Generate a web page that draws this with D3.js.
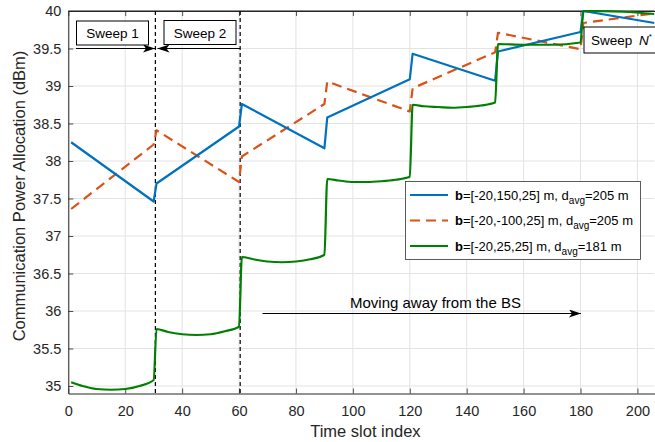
<!DOCTYPE html>
<html>
<head>
<meta charset="utf-8">
<script src="https://cdn.jsdelivr.net/npm/d3@7"></script>
<style>
  body { margin: 0; background: #fff; }
  text { font-family: "Liberation Sans", Arial, Helvetica, sans-serif; }
</style>
</head>
<body>
<div id="chart"></div>
<script>
// ── Data
const xTicks = [0, 20, 40, 60, 80, 100, 120, 140, 160, 180, 200];
const yTicks = [35, 35.5, 36, 36.5, 37, 37.5, 38, 38.5, 39, 39.5, 40];

// b=[-20,150,25]
const blueT = [1, 30, 31, 60, 61, 90, 91, 120, 121, 150, 151, 180, 181, 206];
const blueV = [38.25, 37.46, 37.70, 38.46, 38.76, 38.17, 38.58, 39.09, 39.43, 39.07, 39.46, 39.72, 40.0, 39.84];

// b=[-20,-100,25]
const orangeT = [1, 30, 31, 60, 61, 90, 91, 120, 121, 150, 151, 180, 181, 206];
const orangeV = [37.36, 38.22, 38.41, 37.72, 38.06, 38.76, 39.06, 38.66, 38.97, 39.45, 39.71, 39.49, 39.84, 39.97];

// b=[-20,25,25]
const greenT = [1, 5, 10, 15, 20, 25, 30,
                31, 35, 40, 45, 50, 55, 60,
                61, 65, 70, 75, 80, 85, 90,
                91, 95, 100, 105, 110, 115, 120,
                121, 125, 130, 135, 140, 145, 150,
                151, 160, 170, 180,
                181, 195, 206];
const greenV = [35.05, 35.00, 34.96, 34.95, 34.96, 35.00, 35.08,
                35.76, 35.72, 35.69, 35.68, 35.69, 35.73, 35.79,
                36.72, 36.69, 36.66, 36.65, 36.66, 36.69, 36.75,
                37.76, 37.74, 37.72, 37.72, 37.73, 37.75, 37.79,
                38.75, 38.73, 38.72, 38.71, 38.72, 38.74, 38.78,
                39.56, 39.55, 39.55, 39.58,
                40.0, 39.99, 39.96];

const sweepBounds = [30.6, 60.4];

// ── Layout
const W = 655, H = 442;
const M = { left: 68.3, top: 11, right: 654.5, bottom: 393.5 };
const FONT = '"Liberation Sans", Arial, Helvetica, sans-serif';
const AXIS_COL = '#262626';

const svg = d3.select('#chart').append('svg')
  .attr('width', W).attr('height', H)
  .style('display', 'block');

const x = d3.scaleLinear().domain([0, 206]).range([M.left, M.right]);
const y = d3.scaleLinear().domain([34.9, 40]).range([M.bottom, M.top]);

const defs = svg.append('defs');
defs.append('clipPath').attr('id', 'plot-clip')
  .append('rect')
  .attr('x', M.left).attr('y', M.top - 1)
  .attr('width', M.right - M.left).attr('height', M.bottom - M.top + 1);

// MATLAB-ish notched arrowhead
defs.append('marker')
  .attr('id', 'arrow')
  .attr('viewBox', '0 0 12 8')
  .attr('refX', 12).attr('refY', 4)
  .attr('markerWidth', 12).attr('markerHeight', 8)
  .attr('markerUnits', 'userSpaceOnUse')
  .attr('orient', 'auto-start-reverse')
  .append('path')
  .attr('d', 'M0,0 L12,4 L0,8 L3,4 Z')
  .attr('fill', '#000');

// ── Grid
const grid = svg.append('g');
grid.selectAll('.gx').data(xTicks).enter().append('line')
  .attr('x1', d => x(d)).attr('x2', d => x(d))
  .attr('y1', M.top).attr('y2', M.bottom)
  .attr('stroke', '#e3e3e3').attr('stroke-width', 1);
grid.selectAll('.gy').data(yTicks).enter().append('line')
  .attr('x1', M.left).attr('x2', M.right)
  .attr('y1', d => y(d)).attr('y2', d => y(d))
  .attr('stroke', '#e3e3e3').attr('stroke-width', 1);

// ── Axes
const xAxis = svg.append('g')
  .attr('transform', `translate(0,${M.bottom})`)
  .call(d3.axisBottom(x).tickValues(xTicks).tickSizeInner(-5).tickSizeOuter(0).tickPadding(12));
const xAxisTop = svg.append('g')
  .attr('transform', `translate(0,${M.top})`)
  .call(d3.axisTop(x).tickValues(xTicks).tickSizeInner(-5).tickSizeOuter(0).tickFormat(''));
const yAxis = svg.append('g')
  .attr('transform', `translate(${M.left},0)`)
  .call(d3.axisLeft(y).tickValues(yTicks).tickSizeInner(-5).tickSizeOuter(0).tickPadding(7)
    .tickFormat(d3.format('~g')));

[xAxis, xAxisTop, yAxis].forEach(g => {
  g.select('.domain').attr('stroke', AXIS_COL).attr('stroke-width', 1);
  g.selectAll('.tick line').attr('stroke', AXIS_COL).attr('stroke-width', 0.8);
  g.selectAll('.tick text')
    .attr('fill', AXIS_COL)
    .style('font-family', FONT)
    .style('font-size', '14.5px');
});
svg.append('line')
  .attr('x1', M.left).attr('x2', M.right)
  .attr('y1', M.top).attr('y2', M.top)
  .attr('stroke', AXIS_COL).attr('stroke-width', 1);

// axis titles
svg.append('text')
  .attr('x', (M.left + M.right) / 2 + 4).attr('y', 437)
  .attr('text-anchor', 'middle')
  .attr('fill', AXIS_COL)
  .style('font-size', '16.5px')
  .text('Time slot index');

svg.append('text')
  .attr('transform', `translate(25,196) rotate(-90)`)
  .attr('text-anchor', 'middle')
  .attr('fill', AXIS_COL)
  .style('font-size', '16.5px')
  .text('Communication Power Allocation (dBm)');

// ── Sweep boundaries
svg.append('g').selectAll('line').data(sweepBounds).enter().append('line')
  .attr('x1', d => x(d)).attr('x2', d => x(d))
  .attr('y1', M.top).attr('y2', M.bottom)
  .attr('stroke', '#000').attr('stroke-width', 1.2)
  .attr('stroke-dasharray', '4,3');

// ── Data lines
const plot = svg.append('g').attr('clip-path', 'url(#plot-clip)');
const zipT = (ts, vs) => ts.map((t, i) => [t, vs[i]]);

const series = [
  { key: 'orange', data: zipT(orangeT, orangeV), color: '#D95319', dash: '10,6', curve: d3.curveLinear },
  { key: 'blue', data: zipT(blueT, blueV), color: '#0072BD', dash: null, curve: d3.curveLinear },
  { key: 'green', data: zipT(greenT, greenV), color: '#008000', dash: null, curve: d3.curveMonotoneX },
];

series.forEach(s => {
  const line = d3.line().x(d => x(d[0])).y(d => y(d[1])).curve(s.curve);
  plot.append('path')
    .datum(s.data)
    .attr('d', line)
    .attr('fill', 'none')
    .attr('stroke', s.color)
    .attr('stroke-width', 2.2)
    .attr('stroke-linejoin', 'round')
    .attr('stroke-dasharray', s.dash);
});

// ── Annotations
function textBox(x0, y0, w, h, build) {
  const g = svg.append('g');
  g.append('rect')
    .attr('x', x0).attr('y', y0).attr('width', w).attr('height', h)
    .attr('fill', '#fff').attr('stroke', '#000').attr('stroke-width', 1);
  const t = g.append('text')
    .attr('x', x0 + w / 2).attr('y', y0 + h / 2 + 5)
    .attr('text-anchor', 'middle')
    .attr('fill', '#000')
    .style('font-size', '13.5px');
  build(t);
  return g;
}

textBox(76.5, 21, 72, 24, t => t.text('Sweep 1'));
textBox(164, 20.5, 72, 24, t => t.text('Sweep 2'));
textBox(584, 27, 80, 26, t => {
  t.attr('x', 591).attr('text-anchor', 'start');
  t.append('tspan').text('Sweep ');
  t.append('tspan').attr('dx', 3).style('font-style', 'italic').text('N');
  t.append('tspan').attr('dy', -6).style('font-size', '8px').text('*');
});

// sweep arrows
svg.append('line')
  .attr('x1', 76).attr('y1', 48.5).attr('x2', 155).attr('y2', 48.5)
  .attr('stroke', '#000').attr('stroke-width', 1)
  .attr('marker-end', 'url(#arrow)');
svg.append('line')
  .attr('x1', 240).attr('y1', 48.5).attr('x2', 157.5).attr('y2', 48.5)
  .attr('stroke', '#000').attr('stroke-width', 1)
  .attr('marker-end', 'url(#arrow)');

// moving away arrow
svg.append('line')
  .attr('x1', 262.5).attr('y1', 313.5).attr('x2', 581).attr('y2', 313.5)
  .attr('stroke', '#000').attr('stroke-width', 1.2)
  .attr('marker-end', 'url(#arrow)');
svg.append('text')
  .attr('x', 350).attr('y', 308)
  .attr('fill', '#000')
  .style('font-size', '15px')
  .text('Moving away from the BS');

// ── Legend
const legendItems = [
  { color: '#0072BD', dash: null, b: '[-20,150,25]', d: '205' },
  { color: '#D95319', dash: '10,6', b: '[-20,-100,25]', d: '205' },
  { color: '#008000', dash: null, b: '[-20,25,25]', d: '181' },
];
const lg = svg.append('g');
lg.append('rect')
  .attr('x', 405.5).attr('y', 181.5).attr('width', 235).attr('height', 78)
  .attr('fill', '#fff').attr('stroke', '#333').attr('stroke-width', 0.8);
legendItems.forEach((it, i) => {
  const yy = 195 + i * 25.5;
  lg.append('line')
    .attr('x1', 410).attr('x2', 448).attr('y1', yy).attr('y2', yy)
    .attr('stroke', it.color).attr('stroke-width', 2.2)
    .attr('stroke-dasharray', it.dash);
  const t = lg.append('text')
    .attr('x', 455).attr('y', yy + 4.5)
    .attr('fill', '#000')
    .style('font-size', '13px');
  t.append('tspan').style('font-weight', 'bold').text('b');
  t.append('tspan').text(`=${it.b} m, d`);
  t.append('tspan').attr('dy', 4).style('font-size', '10px').text('avg');
  t.append('tspan').attr('dy', -4).text(`=${it.d} m`);
});
</script>
</body>
</html>
